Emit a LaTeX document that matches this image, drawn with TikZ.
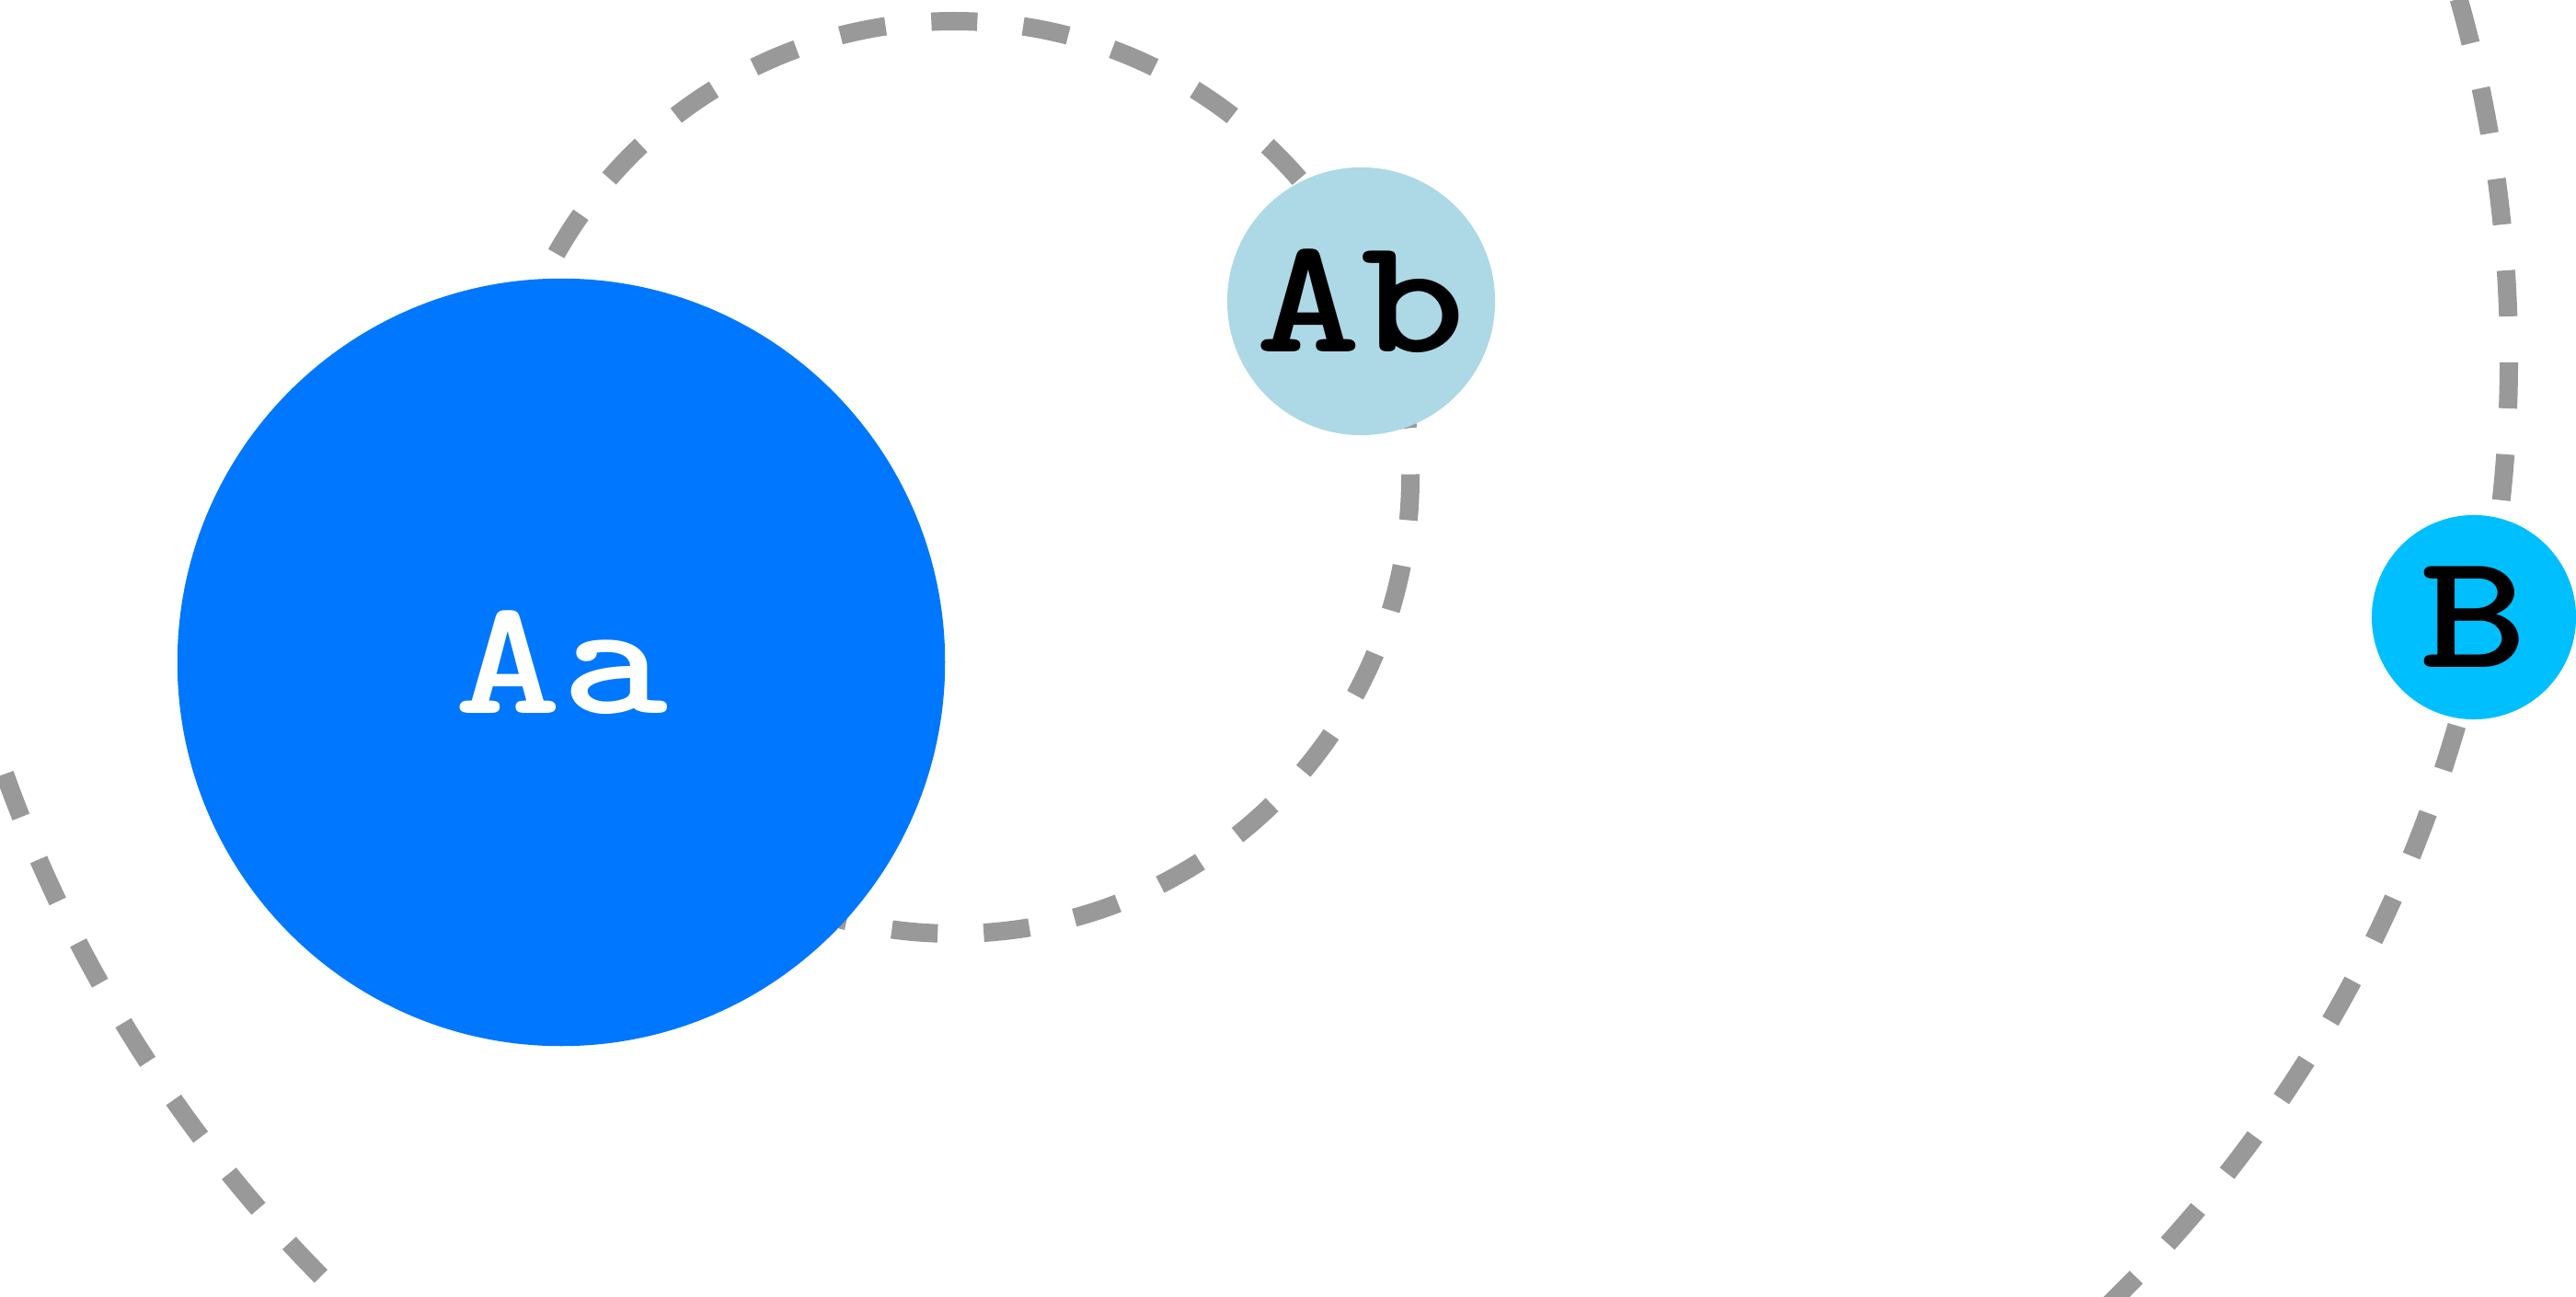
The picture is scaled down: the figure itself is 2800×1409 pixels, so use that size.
\documentclass[tikz,border=0pt]{standalone}
\definecolor{aablue}{HTML}{0077FF}
\definecolor{abblue}{HTML}{ADD8E6}
\definecolor{bblue}{HTML}{00BFFF}
\definecolor{linkgray}{HTML}{999999}
\begin{document}
\begin{tikzpicture}[x=0.01cm,y=-0.01cm,
  link/.style={draw=linkgray, line width=0.2cm, dash pattern=on 0.5cm off 0.5cm},
  nodecircle/.style={circle, inner sep=0pt, outer sep=0pt,
    font=\ttfamily\bfseries\fontsize{51}{60}\selectfont},
]
\useasboundingbox (0,0) rectangle (2800,1409);
\clip (0,0) rectangle (2800,1409);
\coordinate (loopc) at (1037,519);
\coordinate (rightc) at (1294,390);
\coordinate (leftc) at (1409,339);
% dashed links (behind the nodes)
\draw[link, dash phase=0.459cm] ([shift={(180:496)}]loopc) arc[start angle=180, end angle=540, radius=496];
\draw[link, dash phase=0.711cm] ([shift={(-17:1433)}]rightc) arc[start angle=-17, end angle=48, radius=1433];
\draw[link, dash phase=0.30cm] ([shift={(163:1491)}]leftc) arc[start angle=163, end angle=128, radius=1491];
% nodes
\node[nodecircle, fill=aablue, text=white, minimum size=8.34cm] (Aa) at (610,720) {\scalebox{1.23}[1]{Aa}};
\node[nodecircle, fill=abblue, text=black, minimum size=2.91cm] (Ab) at (1479.5,327.5) {\scalebox{1.21}[1]{Ab}};
\node[nodecircle, fill=bblue, text=black, minimum size=2.22cm] (B) at (2689,671) {\scalebox{1.24}[1]{B}};
\end{tikzpicture}
\end{document}
